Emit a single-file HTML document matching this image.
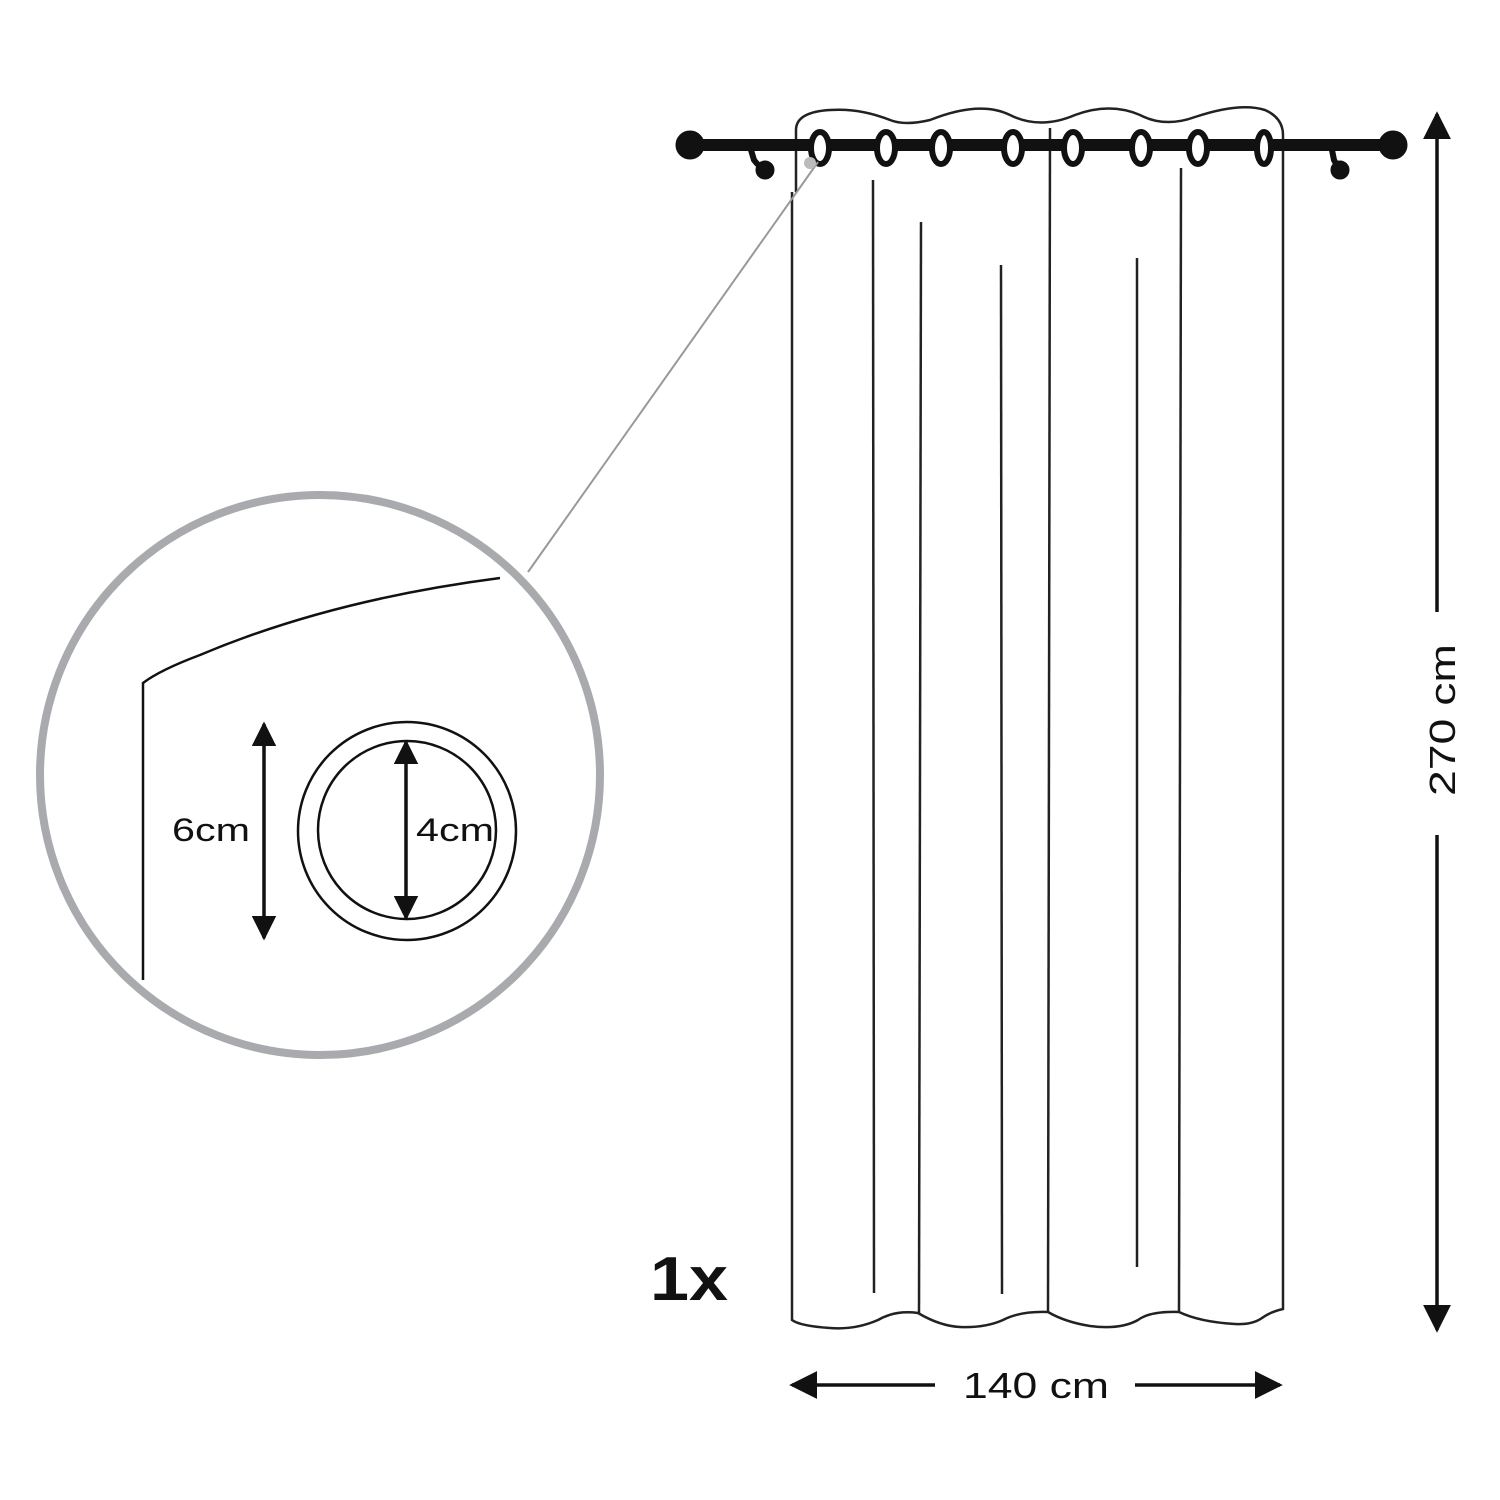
<!DOCTYPE html>
<html><head><meta charset="utf-8"><style>html,body{margin:0;padding:0;background:#fff}svg{display:block}</style></head>
<body>
<svg width="1500" height="1500" viewBox="0 0 1500 1500" xmlns="http://www.w3.org/2000/svg">
<defs>
<marker id="ah" viewBox="0 0 10 10" refX="9" refY="5" markerWidth="7" markerHeight="7" orient="auto-start-reverse"><path d="M0,0 L10,5 L0,10 z" fill="#111"/></marker>
<marker id="ah2" viewBox="0 0 10 10" refX="9" refY="5" markerWidth="8" markerHeight="8" orient="auto-start-reverse"><path d="M0,0 L10,5 L0,10 z" fill="#111"/></marker>
</defs>
<g fill="none" stroke="#222" stroke-width="2.5">
<path d="M796,192 L796,130 Q796,112 830,110 Q860,108 890,120 Q905,126 930,120 Q980,100 1010,115 Q1040,130 1075,115 Q1110,102 1140,115 Q1165,128 1195,117 Q1240,102 1265,110 Q1283,118 1283,135 L1283,1309 Q1270,1312 1262,1318 Q1252,1325 1235,1324 Q1200,1322 1179,1312 Q1150,1311 1138,1320 Q1120,1330 1090,1326 Q1065,1322 1048,1312 Q1020,1311 1003,1320 Q985,1328 960,1327 Q940,1326 918,1313 Q895,1310 878,1320 Q855,1330 830,1328 Q800,1326 792,1320 L792,192"/>
<line x1="873" y1="180" x2="874" y2="1293"/>
<line x1="921" y1="222" x2="919" y2="1313"/>
<line x1="1001" y1="265" x2="1002" y2="1294"/>
<line x1="1050" y1="128" x2="1048" y2="1313"/>
<line x1="1137" y1="258" x2="1137" y2="1267"/>
<line x1="1181" y1="168" x2="1179" y2="1313"/>
</g>
<g fill="#111" stroke="#111">
<rect x="690" y="139" width="705" height="12" stroke="none"/>
<circle cx="690" cy="145" r="14"/>
<circle cx="1393" cy="145" r="14"/>
<path d="M748,140 L754,160 Q760,168 766,170" stroke-width="6" fill="none"/>
<circle cx="765" cy="170" r="9"/>
<path d="M1330,140 L1334,160 Q1338,168 1342,170" stroke-width="6" fill="none"/>
<circle cx="1340" cy="170" r="9"/>
</g>
<g fill="#fff" stroke="#111" stroke-width="6">
<ellipse cx="820" cy="148" rx="9" ry="16"/>
<ellipse cx="886" cy="148" rx="9" ry="16"/>
<ellipse cx="941" cy="148" rx="9" ry="16"/>
<ellipse cx="1013" cy="148" rx="9" ry="16"/>
<ellipse cx="1073" cy="148" rx="9" ry="16"/>
<ellipse cx="1141" cy="148" rx="9" ry="16"/>
<ellipse cx="1198" cy="148" rx="9" ry="16"/>
<ellipse cx="1264" cy="148" rx="7" ry="16"/>
</g>
<line x1="528" y1="572" x2="818" y2="162" stroke="#999" stroke-width="2"/>
<circle cx="810" cy="163" r="6" fill="#bbb"/>
<circle cx="320" cy="775" r="280" fill="none" stroke="#a9aaae" stroke-width="8"/>
<g fill="none" stroke="#111" stroke-width="2.5">
<path d="M143,980 L143,683 Q160,670 200,655 Q330,600 500,578"/>
<circle cx="407" cy="831" r="109"/>
<circle cx="407" cy="830" r="89"/>
<line x1="264" y1="724" x2="264" y2="938" stroke-width="3.5" marker-start="url(#ah)" marker-end="url(#ah)"/>
<line x1="406" y1="742" x2="406" y2="918" stroke-width="3.5" marker-start="url(#ah)" marker-end="url(#ah)"/>
</g>
<g font-family="'Liberation Sans',sans-serif" fill="#111">
<text x="172" y="841" font-size="32" textLength="78" lengthAdjust="spacingAndGlyphs">6cm</text>
<text x="416" y="841" font-size="32" textLength="78" lengthAdjust="spacingAndGlyphs">4cm</text>
<text x="650" y="1300" font-size="62" font-weight="bold" textLength="78" lengthAdjust="spacingAndGlyphs">1x</text>
<text x="1036" y="1398" font-size="36" text-anchor="middle" textLength="146" lengthAdjust="spacingAndGlyphs">140 cm</text>
<text transform="translate(1455,720) rotate(-90)" font-size="36" text-anchor="middle" textLength="152" lengthAdjust="spacingAndGlyphs">270 cm</text>
</g>
<g stroke="#111" stroke-width="3.5" fill="none">
<line x1="792" y1="1385" x2="935" y2="1385" marker-start="url(#ah2)"/>
<line x1="1135" y1="1385" x2="1280" y2="1385" marker-end="url(#ah2)"/>
<line x1="1437" y1="114" x2="1437" y2="612" marker-start="url(#ah2)"/>
<line x1="1437" y1="835" x2="1437" y2="1330" marker-end="url(#ah2)"/>
</g>
</svg>
</body></html>
